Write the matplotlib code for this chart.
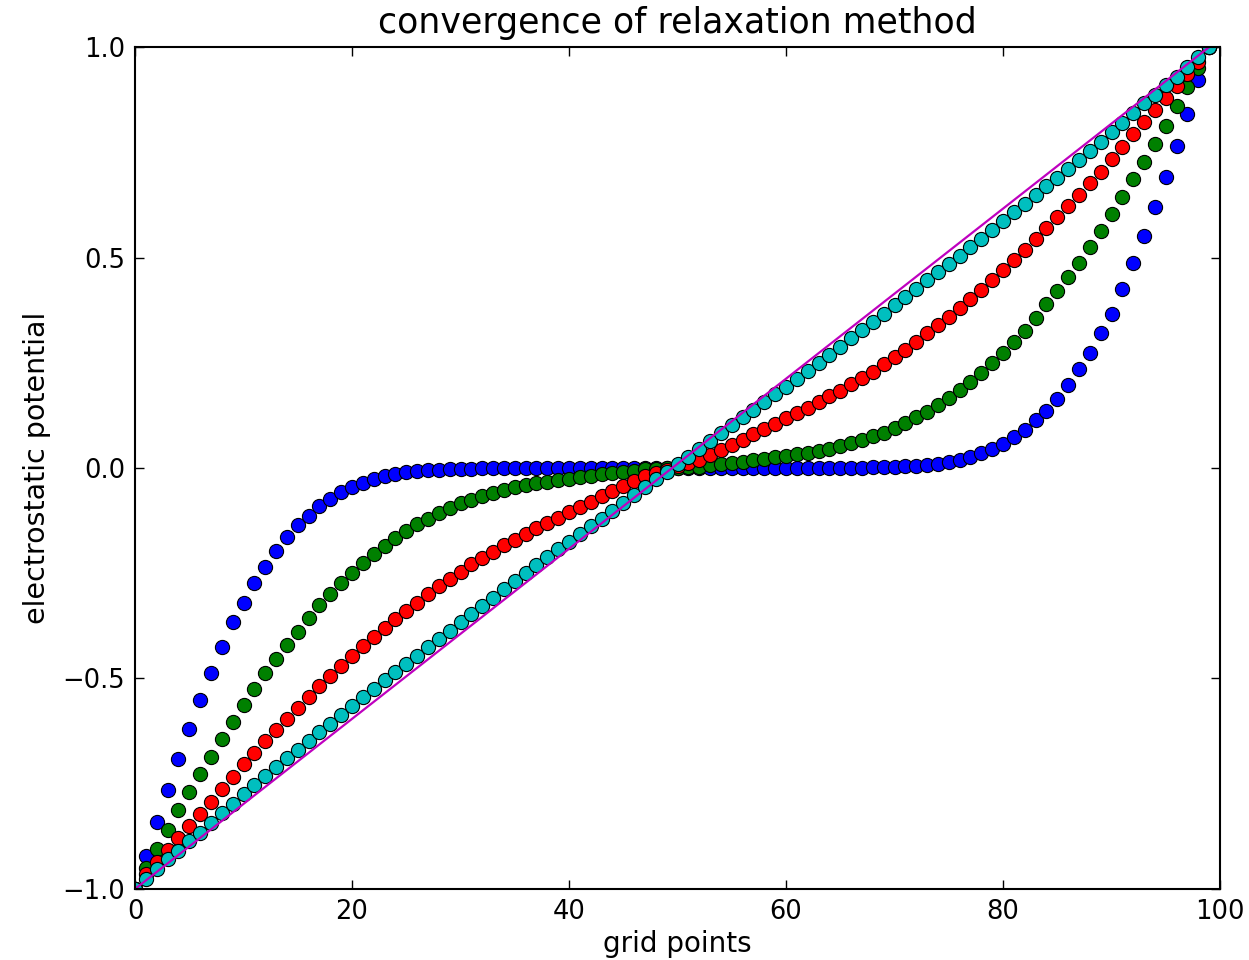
import numpy as np
import matplotlib
matplotlib.use("Agg")
import matplotlib.pyplot as plt

# grid index (0..99)
grid = np.arange(100)

# potential after successive relaxation sweeps
phi_blue = [
    -1.0, -0.922, -0.842, -0.764, -0.692, -0.620, -0.551, -0.486, -0.425, -0.367,
    -0.320, -0.272, -0.234, -0.196, -0.163, -0.135, -0.114, -0.090, -0.073, -0.058,
    -0.045, -0.035, -0.026, -0.019, -0.014, -0.010, -0.007, -0.005, -0.004, -0.003,
    -0.002, -0.002, -0.001, -0.001, -0.001, 0.0, 0.0, 0.0, 0.0, 0.0,
    0.0, 0.0, 0.0, 0.0, 0.0, 0.0, 0.0, 0.0, 0.0, 0.0,
    0.0, 0.0, 0.0, 0.0, 0.0, 0.0, 0.0, 0.0, 0.0, 0.0,
    0.0, 0.0, 0.0, 0.0, 0.0, 0.001, 0.001, 0.001, 0.002, 0.002,
    0.003, 0.004, 0.005, 0.007, 0.010, 0.014, 0.019, 0.026, 0.035, 0.045,
    0.058, 0.073, 0.090, 0.114, 0.135, 0.163, 0.196, 0.234, 0.272, 0.320,
    0.367, 0.425, 0.486, 0.551, 0.620, 0.692, 0.764, 0.842, 0.922, 1.0,
]

phi_green = [
    -1.0, -0.951, -0.905, -0.860, -0.813, -0.769, -0.727, -0.686, -0.644, -0.603,
    -0.562, -0.524, -0.487, -0.454, -0.421, -0.389, -0.357, -0.326, -0.299, -0.272,
    -0.249, -0.226, -0.204, -0.186, -0.167, -0.150, -0.134, -0.121, -0.108, -0.096,
    -0.084, -0.075, -0.067, -0.059, -0.052, -0.046, -0.041, -0.036, -0.033, -0.029,
    -0.026, -0.022, -0.019, -0.015, -0.012, -0.009, -0.006, -0.003, -0.002, -0.001,
    0.001, 0.002, 0.003, 0.006, 0.009, 0.012, 0.015, 0.019, 0.022, 0.026,
    0.029, 0.033, 0.036, 0.041, 0.046, 0.052, 0.059, 0.067, 0.075, 0.084,
    0.096, 0.108, 0.121, 0.134, 0.150, 0.167, 0.186, 0.204, 0.226, 0.249,
    0.272, 0.299, 0.326, 0.357, 0.389, 0.421, 0.454, 0.487, 0.524, 0.562,
    0.603, 0.644, 0.686, 0.727, 0.769, 0.813, 0.860, 0.905, 0.951, 1.0,
]

phi_red = [
    -1.0, -0.965, -0.936, -0.907, -0.879, -0.850, -0.821, -0.793, -0.763, -0.733,
    -0.704, -0.676, -0.649, -0.622, -0.596, -0.570, -0.544, -0.518, -0.493, -0.470,
    -0.446, -0.424, -0.402, -0.380, -0.359, -0.339, -0.320, -0.300, -0.281, -0.263,
    -0.246, -0.229, -0.214, -0.199, -0.184, -0.170, -0.156, -0.143, -0.131, -0.118,
    -0.105, -0.093, -0.080, -0.067, -0.054, -0.042, -0.030, -0.020, -0.011, -0.004,
    0.004, 0.011, 0.020, 0.030, 0.042, 0.054, 0.067, 0.080, 0.093, 0.105,
    0.118, 0.131, 0.143, 0.156, 0.170, 0.184, 0.199, 0.214, 0.229, 0.246,
    0.263, 0.281, 0.300, 0.320, 0.339, 0.359, 0.380, 0.402, 0.424, 0.446,
    0.470, 0.493, 0.518, 0.544, 0.570, 0.596, 0.622, 0.649, 0.676, 0.704,
    0.733, 0.763, 0.793, 0.821, 0.850, 0.879, 0.907, 0.936, 0.965, 1.0,
]

phi_cyan = [
    -1.0, -0.976, -0.953, -0.930, -0.909, -0.887, -0.866, -0.843, -0.820, -0.798,
    -0.775, -0.754, -0.732, -0.711, -0.690, -0.670, -0.649, -0.628, -0.607, -0.586,
    -0.565, -0.545, -0.524, -0.504, -0.485, -0.465, -0.446, -0.426, -0.407, -0.387,
    -0.367, -0.347, -0.328, -0.308, -0.288, -0.268, -0.249, -0.230, -0.211, -0.193,
    -0.175, -0.157, -0.138, -0.120, -0.101, -0.083, -0.064, -0.046, -0.027, -0.009,
    0.009, 0.027, 0.046, 0.064, 0.083, 0.101, 0.120, 0.138, 0.157, 0.175,
    0.193, 0.211, 0.230, 0.249, 0.268, 0.288, 0.308, 0.328, 0.347, 0.367,
    0.387, 0.407, 0.426, 0.446, 0.465, 0.485, 0.504, 0.524, 0.545, 0.565,
    0.586, 0.607, 0.628, 0.649, 0.670, 0.690, 0.711, 0.732, 0.754, 0.775,
    0.798, 0.820, 0.843, 0.866, 0.887, 0.909, 0.930, 0.953, 0.976, 1.0,
]

# exact solution (straight line between the boundary values)
exact_x = [0, 99]
exact_y = [-1.0, 1.0]

series = [
    (phi_blue, (0.0, 0.0, 1.0)),
    (phi_green, (0.0, 0.5, 0.0)),
    (phi_red, (1.0, 0.0, 0.0)),
    (phi_cyan, (0.0, 0.75, 0.75)),
]

plt.rcParams["font.family"] = "DejaVu Sans"

fig = plt.figure(figsize=(12.49, 9.6), dpi=100)
ax = fig.add_axes([0.1081, 0.074, 0.8687, 0.877])

for vals, col in series:
    ax.plot(grid, vals, linestyle="none", marker="o", markersize=10.2,
            markerfacecolor=col, markeredgecolor="black", markeredgewidth=0.8)

ax.plot(exact_x, exact_y, color=(0.75, 0.0, 0.75), linewidth=1.6)

ax.set_xlim(0, 100)
ax.set_ylim(-1.0, 1.0)
ax.set_xticks([0, 20, 40, 60, 80, 100])
ax.set_yticks([-1.0, -0.5, 0.0, 0.5, 1.0])

ax.tick_params(direction="in", length=6.2, width=1.0, labelsize=18.5,
               top=True, right=True, pad=7)
for sp in ax.spines.values():
    sp.set_linewidth(1.5)

ax.set_xlabel("grid points", fontsize=20, labelpad=4)
ax.set_ylabel("electrostatic potential", fontsize=20.5, labelpad=8)
ax.set_title("convergence of relaxation method", fontsize=25, pad=10)

fig.savefig("out.png", dpi=100)
